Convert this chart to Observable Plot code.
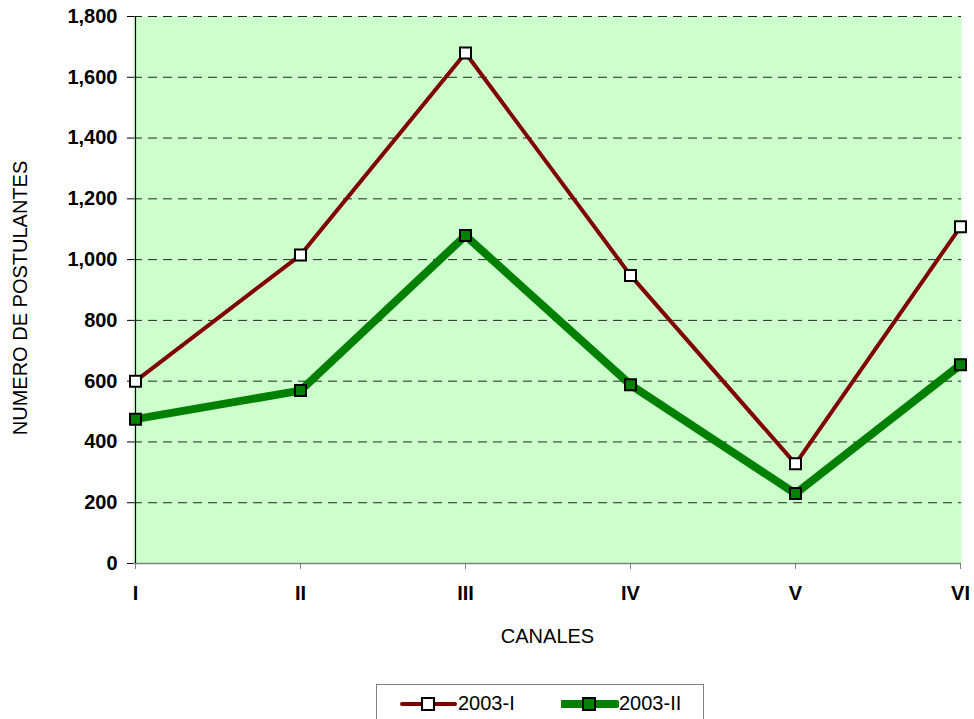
<!DOCTYPE html>
<html>
<head>
<meta charset="utf-8">
<script src="https://cdn.jsdelivr.net/npm/d3@7"></script>
<script src="https://cdn.jsdelivr.net/npm/@observablehq/plot@0.6"></script>
<style>
  html, body { margin: 0; padding: 0; background: #fff; }
  body { width: 974px; height: 719px; overflow: hidden; position: relative; font-family: 'Liberation Sans', Arial, sans-serif; }
  #chart { position: absolute; left: 0; top: 0; }
  #legend { position: absolute; left: 376px; top: 684px; width: 328px; height: 40px; border: 1px solid #808080; box-sizing: border-box; background: #fff; display: flex; align-items: center; font-size: 20px; color: #000; }
  .item { display: flex; align-items: center; position: absolute; top: 7px; }
</style>
</head>
<body>
<div id="chart"></div>
<div id="legend"></div>
<script>
const categories = ["I", "II", "III", "IV", "V", "VI"];
const serie2003I = [600, 1015, 1680, 948, 328, 1108];
const serie2003II = [475, 569, 1079, 588, 230, 654];
const yTicks = [0, 200, 400, 600, 800, 1000, 1200, 1400, 1600, 1800];
const seriesNames = ["2003-I", "2003-II"];

const rowsI = categories.map((c, i) => ({canal: c, value: serie2003I[i]}));
const rowsII = categories.map((c, i) => ({canal: c, value: serie2003II[i]}));

const plot = Plot.plot({
  width: 974,
  height: 680,
  marginLeft: 133,
  marginRight: 13,
  marginTop: 16,
  marginBottom: 117,
  style: {fontFamily: "'Liberation Sans', Arial, sans-serif", fontSize: "20px", color: "#000", background: "transparent", overflow: "visible"},
  x: {type: "point", domain: categories, padding: 0, label: null},
  y: {domain: [0, 1800], label: null},
  marks: [
    Plot.frame({fill: "#ccffcc", stroke: null}),
    Plot.gridY(yTicks.filter(d => d > 0), {stroke: "#000", strokeOpacity: 0.85, strokeDasharray: "9,6"}),
    Plot.ruleY([0], {stroke: "#808080", strokeWidth: 1.5}),
    Plot.ruleX([categories[0]], {stroke: "#000", strokeWidth: 1.2}),
    Plot.axisY(yTicks, {tickSize: 6, tickPadding: 10, tickFormat: d3.format(","), fontWeight: "bold", label: null}),
    Plot.axisX({tickSize: 6, tickPadding: 16, stroke: "#808080", fontWeight: "bold", label: null}),
    Plot.text(["NUMERO DE POSTULANTES"], {frameAnchor: "left", textAnchor: "middle", rotate: -90, dx: -113, dy: 8, fontSize: 20}),
    Plot.text(["CANALES"], {frameAnchor: "bottom", dy: 79, fontSize: 20}),
    Plot.line(rowsI, {x: "canal", y: "value", stroke: "#800000", strokeWidth: 4}),
    Plot.line(rowsII, {x: "canal", y: "value", stroke: "#008000", strokeWidth: 8}),
    Plot.dot(rowsI, {x: "canal", y: "value", symbol: "square", r: 6.2, fill: "#fff", stroke: "#000", strokeWidth: 2}),
    Plot.dot(rowsII, {x: "canal", y: "value", symbol: "square", r: 6.2, fill: "#008000", stroke: "#000", strokeWidth: 2})
  ]
});
document.getElementById("chart").appendChild(plot);

// Legend
const legend = document.getElementById("legend");
const specs = [
  {name: seriesNames[0], color: "#800000", w: 4, fill: "#fff", left: 23},
  {name: seriesNames[1], color: "#008000", w: 8, fill: "#008000", left: 184}
];
specs.forEach(s => {
  const item = document.createElement("div");
  item.className = "item";
  item.style.left = s.left + "px";
  const sw = d3.create("svg").attr("width", 58).attr("height", 20);
  sw.append("line").attr("x1", 2).attr("x2", 55).attr("y1", 10).attr("y2", 10)
    .attr("stroke", s.color).attr("stroke-width", s.w).attr("stroke-linecap", "round");
  sw.append("rect").attr("x", 22).attr("y", 4).attr("width", 12).attr("height", 12)
    .attr("fill", s.fill).attr("stroke", "#000").attr("stroke-width", 2);
  item.appendChild(sw.node());
  const t = document.createElement("span");
  t.textContent = s.name;
  item.appendChild(t);
  legend.appendChild(item);
});
</script>
</body>
</html>
